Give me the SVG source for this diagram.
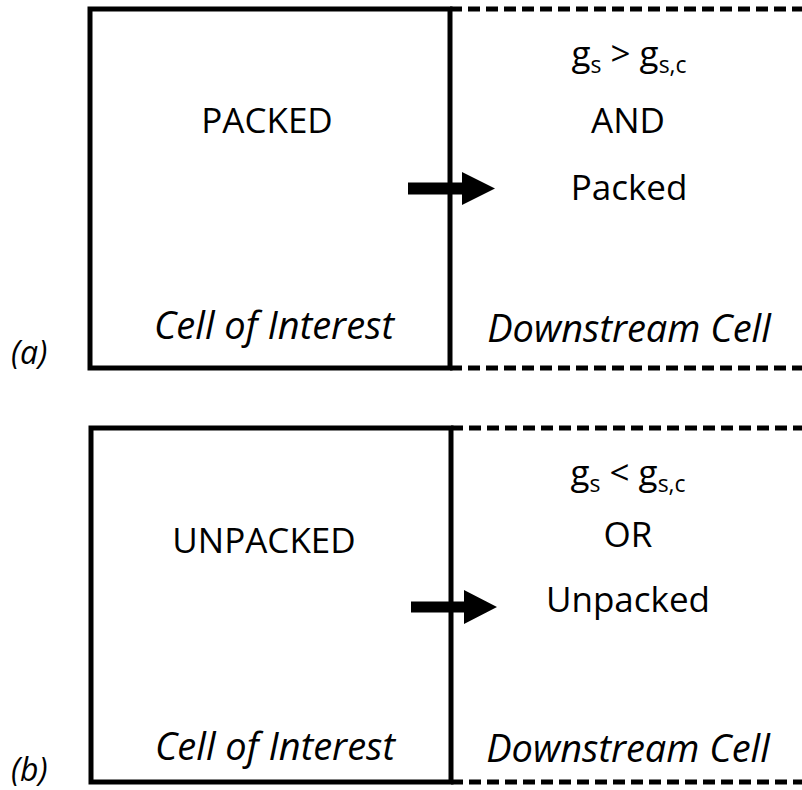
<svg xmlns="http://www.w3.org/2000/svg" width="802" height="790" viewBox="0 0 802 790">
<style>
.solid{fill:none;stroke:#000;stroke-width:5;stroke-linecap:square}
.dash{fill:none;stroke:#000;stroke-width:5;stroke-dasharray:12 6}
.t{font-family:"Open Sans","Liberation Sans",sans-serif;font-size:35px;fill:#000;text-anchor:middle}
.i{font-family:"Open Sans","Liberation Sans",sans-serif;font-size:38px;font-style:italic;fill:#000;text-anchor:middle}
.lab{font-family:"Open Sans","Liberation Sans",sans-serif;font-size:32px;font-style:italic;fill:#000}
.sub{font-size:23px}
</style>
<rect width="802" height="790" fill="#fff"/>
<g id="panel-a">
  <g id="a-cell-of-interest">
    <rect class="solid" x="90" y="9" width="360" height="359"/>
    <text class="t" x="267" y="133">PACKED</text>
    <text class="i" x="274" y="339">Cell of Interest</text>
  </g>
  <g id="a-downstream-cell">
    <line class="dash" x1="450" y1="9" x2="802" y2="9"/>
    <line class="dash" x1="450" y1="368" x2="802" y2="368"/>
    <text class="t" x="629" y="66" font-size="37">g<tspan class="sub" dy="7">s</tspan><tspan dy="-7"> &gt; g</tspan><tspan class="sub" dy="7">s,c</tspan></text>
    <text class="t" x="628" y="133">AND</text>
    <text class="t" x="629" y="200">Packed</text>
    <text class="i" x="629" y="342">Downstream Cell</text>
  </g>
  <text class="lab" x="11" y="364">(a)</text>
</g>
<g id="panel-b">
  <g id="b-cell-of-interest">
    <rect class="solid" x="91" y="428" width="360" height="354"/>
    <text class="t" x="264" y="553">UNPACKED</text>
    <text class="i" x="275" y="760">Cell of Interest</text>
  </g>
  <g id="b-downstream-cell">
    <line class="dash" x1="451" y1="428" x2="802" y2="428"/>
    <line class="dash" x1="451" y1="782" x2="802" y2="782"/>
    <text class="t" x="628" y="485" font-size="37">g<tspan class="sub" dy="7">s</tspan><tspan dy="-7"> &lt; g</tspan><tspan class="sub" dy="7">s,c</tspan></text>
    <text class="t" x="628" y="547">OR</text>
    <text class="t" x="628" y="612" font-size="36">Unpacked</text>
    <text class="i" x="628" y="762">Downstream Cell</text>
  </g>
  <text class="lab" x="11" y="781">(b)</text>
</g>
<g id="connectors">
  <polygon points="408,182.5 462,182.5 462,172 495,188.5 462,205 462,194.5 408,194.5" fill="#000"/>
  <polygon points="411,601.5 464,601.5 464,590 497,607 464,624 464,612.5 411,612.5" fill="#000"/>
</g>
</svg>
